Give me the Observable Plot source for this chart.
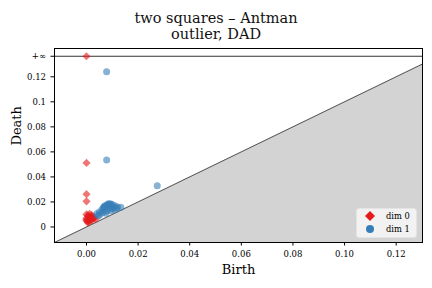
<!DOCTYPE html>
<html>
<head>
<meta charset="utf-8">
<script src="https://cdn.jsdelivr.net/npm/d3@7"></script>
<script src="https://cdn.jsdelivr.net/npm/@observablehq/plot@0.6"></script>
<style>
  html, body { margin: 0; padding: 0; background: #fff; }
  #wrap { position: relative; width: 432px; height: 288px; font-family: "DejaVu Serif", serif; }
  #title { height: 44px; text-align: center; font-size: 14.5px; line-height: 16px; padding-top: 10px; box-sizing: border-box; color: #111; }
  #legend { position: absolute; left: 356px; top: 208px; width: 61px; height: 30px; background: rgba(245,245,245,0.9); border: 1px solid #e4e4e4; border-radius: 3px; box-sizing: border-box; font-size: 8.3px; }
  #legend .row { position: absolute; left: 0; height: 12px; line-height: 12px; }
  #legend svg { position: absolute; left: 7px; top: 0px; }
  #legend span { position: absolute; left: 29px; top: 0; white-space: nowrap; }
</style>
</head>
<body>
<div id="wrap">
  <div id="title">two squares – Antman<br>outlier, DAD</div>
  <div id="chart"></div>
  <div id="legend">
    <div class="row" style="top:1px"><svg width="12" height="12"><path d="M6,1L11,6L6,11L1,6Z" fill="#e41a1c"/></svg><span>dim 0</span></div>
    <div class="row" style="top:14px"><svg width="12" height="12"><circle cx="6" cy="6" r="4" fill="#377eb8"/></svg><span>dim 1</span></div>
  </div>
</div>
<script>
// dim 0 (H0) intervals: births and deaths (Infinity = essential class)
const dim0Birth = [0, 0, 0, 0, 0, 0.0005, 0.001, 0, 0.0015, 0.002, 0, 0.001, 0.0025, 0.003, 0, 0.0005, 0.002, 0.0035, 0.001, 0.0005, 0.002, 0.0012, 0.0028, 0.0018, 0.0008];
const dim0Death = [Infinity, 0.0512, 0.0262, 0.0205, 0.0100, 0.0090, 0.0085, 0.0070, 0.0078, 0.0082, 0.0060, 0.0055, 0.0066, 0.0072, 0.0050, 0.0045, 0.0052, 0.0062, 0.0040, 0.0035, 0.0095, 0.0105, 0.0080, 0.0068, 0.0060];
// dim 1 (H1) intervals
const dim1Birth = [0.0078, 0.0078, 0.0274, 0.0133, 0.004, 0.005, 0.006, 0.007, 0.008, 0.009, 0.0085, 0.010, 0.011, 0.012, 0.006, 0.008, 0.010, 0.007, 0.009, 0.005, 0.0045, 0.0075, 0.0095, 0.011, 0.0065, 0.0088, 0.0105, 0.0118, 0.0072, 0.0085, 0.0095, 0.0068];
const dim1Death = [0.1240, 0.0536, 0.0330, 0.0158, 0.0105, 0.0120, 0.0140, 0.0160, 0.0178, 0.0184, 0.0176, 0.0178, 0.0170, 0.0160, 0.0112, 0.0130, 0.0145, 0.0125, 0.0150, 0.0095, 0.0090, 0.0110, 0.0130, 0.0140, 0.0152, 0.0168, 0.0158, 0.0150, 0.0170, 0.0186, 0.0183, 0.0162];
const yTickValues = [0, 0.02, 0.04, 0.06, 0.08, 0.1, 0.12];
const yTickLabels = ["0", "0.02", "0.04", "0.06", "0.08", "0.1", "0.12"];
const xTickValues = [0, 0.02, 0.04, 0.06, 0.08, 0.1, 0.12];

// gudhi-style axis bounds
const finiteDeaths = dim0Death.concat(dim1Death).filter(Number.isFinite);
const maxDeath = d3.max(finiteDeaths);
const minBirth = d3.min(dim0Birth.concat(dim1Birth));
const delta = (maxDeath - minBirth) * 0.1;
const infinity = maxDeath + delta;
const axisEnd = maxDeath + delta / 2;
const axisStart = minBirth - delta;
const yTop = infinity + delta / 2;

const dim0 = dim0Birth.map((b, i) => ({birth: b, death: Number.isFinite(dim0Death[i]) ? dim0Death[i] : infinity}));
const dim1 = dim1Birth.map((b, i) => ({birth: b, death: dim1Death[i]}));
const diag = [{x: axisStart}, {x: axisEnd}];

const chart = Plot.plot({
  width: 432,
  height: 244,
  marginTop: 4,
  marginLeft: 54,
  marginRight: 10,
  marginBottom: 46,
  style: {fontFamily: "'DejaVu Serif', serif", fontSize: "8.5px", color: "#000", background: "#fff"},
  x: {domain: [axisStart, axisEnd], label: null},
  y: {domain: [axisStart, yTop], label: null},
  marks: [
    Plot.areaY(diag, {x: "x", y1: axisStart, y2: "x", fill: "#d3d3d3"}),
    Plot.line(diag, {x: "x", y: "x", stroke: "#000", strokeWidth: 0.6}),
    Plot.ruleY([infinity], {stroke: "#333", strokeWidth: 1}),
    Plot.dot(dim0, {x: "birth", y: "death", symbol: "diamond2", r: 3.7, fill: "#e41a1c", fillOpacity: 0.6, stroke: "none"}),
    Plot.dot(dim1, {x: "birth", y: "death", r: 3.5, fill: "#377eb8", fillOpacity: 0.6, stroke: "none"}),
    Plot.axisX({ticks: xTickValues, tickFormat: d3.format(".2f"), tickSize: 3.5, tickPadding: 5, fontSize: 8.5, label: null}),
    Plot.axisY({ticks: yTickValues.concat([infinity]), tickFormat: (d) => d === infinity ? "+∞" : yTickLabels[yTickValues.indexOf(d)], tickSize: 3.5, tickPadding: 5, fontSize: 8.5, label: null}),
    Plot.frame({stroke: "#000", strokeWidth: 1}),
    Plot.text(["Birth"], {frameAnchor: "bottom", dy: 31, fontSize: 13, fill: "#000"}),
    Plot.text(["Death"], {frameAnchor: "left", dx: -38, rotate: -90, fontSize: 13, fill: "#000"})
  ]
});
document.getElementById("chart").appendChild(chart);
</script>
</body>
</html>
